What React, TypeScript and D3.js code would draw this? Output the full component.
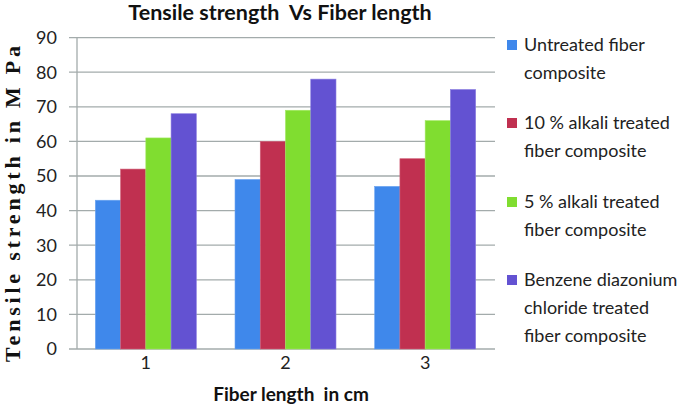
import React from 'react';
import * as d3 from 'd3';

// chart data
const categories = ['1', '2', '3'];
const seriesNames = [
  'Untreated fiber composite',
  '10 % alkali treated fiber composite',
  '5 % alkali treated fiber composite',
  'Benzene diazonium chloride treated fiber composite',
];
const untreated = [43, 49, 47];
const alkali10 = [52, 60, 55];
const alkali5 = [61, 69, 66];
const benzene = [68, 78, 75];
const yTicks = [0, 10, 20, 30, 40, 50, 60, 70, 80, 90];

// legend lines as wrapped in the picture
const legendLines = [
  ['Untreated fiber', 'composite'],
  ['10 % alkali treated', 'fiber composite'],
  ['5 % alkali treated', 'fiber composite'],
  ['Benzene diazonium', 'chloride treated', 'fiber composite'],
];

const colors = ['#3f88eb', '#c03050', '#80dd30', '#6352d2'];
const strokes = ['#6aa3f0', '#d06078', '#a0e860', '#8a7de0'];

const W = 685;
const H = 407;
const margin = { top: 37.6, right: 190, bottom: 58, left: 76 };
const font = 'Lato, "Open Sans", sans-serif';
const gridColor = '#a3abab';

export default function App() {
  const series = [untreated, alkali10, alkali5, benzene];
  const x0 = d3
    .scaleBand()
    .domain(categories)
    .range([margin.left, W - margin.right])
    .paddingInner(0.277)
    .paddingOuter(0.1385);
  const x1 = d3
    .scaleBand()
    .domain(d3.range(series.length).map(String))
    .range([0, x0.bandwidth()]);
  const y = d3
    .scaleLinear()
    .domain([0, 90])
    .range([H - margin.bottom, margin.top]);

  const plotRight = W - margin.right;

  return (
    <svg
      width={W}
      height={H}
      style={{ position: 'absolute', left: 0, top: 0, background: '#fff' }}
    >
      <text
        x={280}
        y={20}
        textAnchor="middle"
        fontFamily={font}
        fontWeight="bold"
        fontSize={21.5}
        fill="#111"
        style={{ whiteSpace: 'pre' }}
      >
        {'Tensile strength  Vs Fiber length'}
      </text>

      {/* gridlines with tick stubs */}
      {yTicks.map(t => (
        <g key={t}>
          <line
            x1={margin.left - 7}
            x2={plotRight}
            y1={y(t)}
            y2={y(t)}
            stroke={gridColor}
            strokeWidth={1.3}
          />
          <text
            x={57}
            y={y(t)}
            dy="0.35em"
            textAnchor="end"
            fontFamily={font}
            fontSize={18}
            fill="#222"
          >
            {t}
          </text>
        </g>
      ))}
      <line
        x1={margin.left + 1}
        x2={margin.left + 1}
        y1={y(90)}
        y2={y(0)}
        stroke={gridColor}
        strokeWidth={1.3}
      />

      {categories.map((c, i) => (
        <g key={c} transform={`translate(${x0(c)},0)`}>
          {series.map((s, k) => (
            <rect
              key={k}
              x={x1(String(k))}
              y={y(s[i])}
              width={x1.bandwidth()}
              height={y(0) - y(s[i])}
              fill={colors[k]}
              stroke={strokes[k]}
              strokeWidth={0.6}
            />
          ))}
          <text
            x={x0.bandwidth() / 2}
            y={y(0) + 20}
            textAnchor="middle"
            fontFamily={font}
            fontSize={18}
            fill="#222"
          >
            {c}
          </text>
        </g>
      ))}

      <text
        x={291}
        y={401}
        textAnchor="middle"
        fontFamily={font}
        fontWeight="bold"
        fontSize={19}
        fill="#111"
        style={{ whiteSpace: 'pre' }}
      >
        {'Fiber length  in cm'}
      </text>

      <text
        transform={`translate(20,${202}) rotate(-90)`}
        textAnchor="middle"
        fontFamily='"Liberation Serif", "Times New Roman", serif'
        fontWeight="bold"
        fontSize={22}
        letterSpacing={3.8}
        fill="#111"
      >
        Tensile strength in M Pa
      </text>

      {seriesNames.map((name, k) => {
        const top = [45, 123, 202, 280][k];
        return (
          <g key={name}>
            <rect x={507} y={top - 5} width={10} height={10} fill={colors[k]} />
            {legendLines[k].map((line, j) => (
              <text
                key={j}
                x={524}
                y={top + j * 28}
                dy="0.35em"
                fontFamily={font}
                fontSize={18}
                fill="#222"
              >
                {line}
              </text>
            ))}
          </g>
        );
      })}
    </svg>
  );
}
